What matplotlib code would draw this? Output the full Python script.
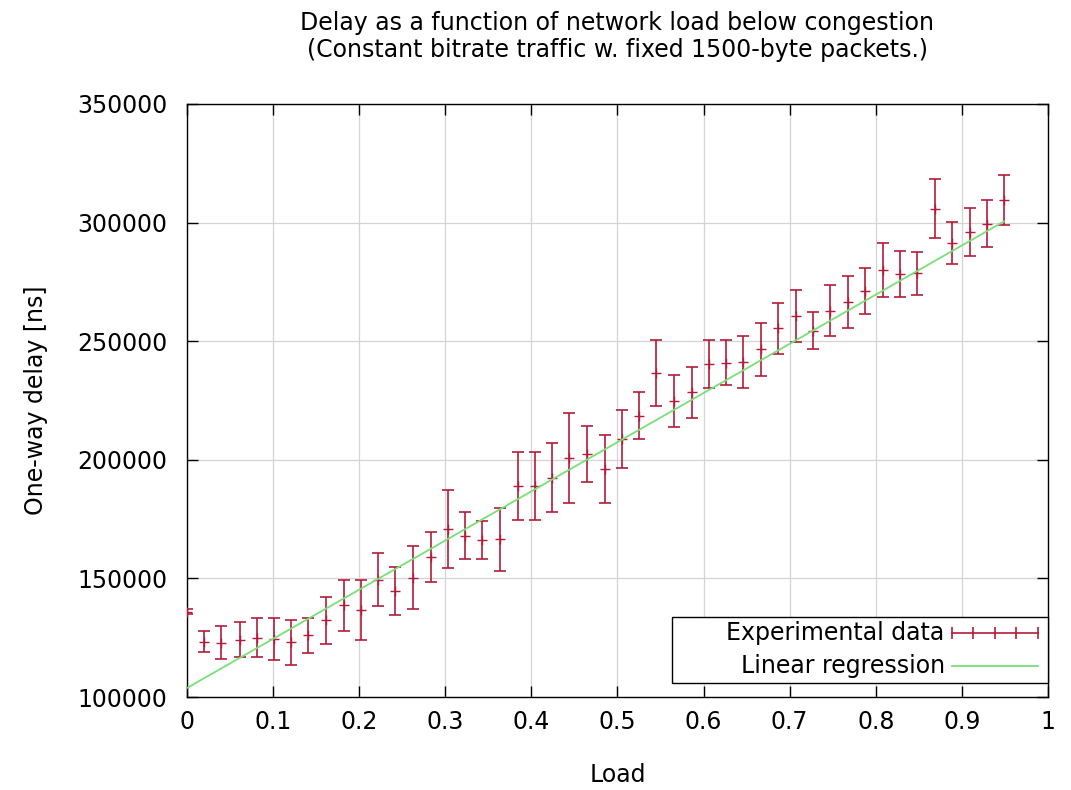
import matplotlib
matplotlib.use("Agg")
import matplotlib.pyplot as plt
from matplotlib.patches import Rectangle

# measured load per run
load = [0.000, 0.020, 0.040, 0.061, 0.081, 0.101, 0.121, 0.141, 0.162, 0.182,
        0.202, 0.222, 0.242, 0.263, 0.283, 0.303, 0.323, 0.343, 0.364, 0.384,
        0.404, 0.424, 0.444, 0.465, 0.485, 0.505, 0.525, 0.545, 0.566, 0.586,
        0.606, 0.626, 0.646, 0.667, 0.687, 0.707, 0.727, 0.747, 0.768, 0.788,
        0.808, 0.828, 0.848, 0.869, 0.889, 0.909, 0.929, 0.949]

# mean one-way delay [ns]
delay = [136000, 123300, 122900, 124100, 125000, 124500, 123000, 126100, 132300, 138600,
         136700, 149500, 144800, 150300, 159000, 170700, 168000, 166200, 166500, 189000,
         189000, 192500, 200800, 202500, 196100, 208800, 218500, 236500, 224800, 228400,
         240400, 241000, 241100, 246600, 255400, 260700, 254500, 262900, 266500, 271200,
         280100, 278500, 278600, 305800, 291500, 296000, 299500, 309500]

# error (half-width) [ns]
delay_err = [1200, 4500, 7000, 7400, 8200, 8800, 9500, 7400, 10000, 10750,
             12650, 11100, 10200, 13300, 10400, 16500, 9900, 8100, 13300, 14400,
             14400, 14400, 19100, 11700, 14400, 12400, 9900, 13800, 11000, 10900,
             10200, 9500, 11000, 11200, 10800, 10900, 7900, 10700, 11000, 9600,
             11400, 9700, 9100, 12400, 8900, 10000, 10000, 10500]

# regression line end points
reg_load = [0.0, 0.949]
reg_delay = [103800, 300500]

x_ticks = [0, 0.1, 0.2, 0.3, 0.4, 0.5, 0.6, 0.7, 0.8, 0.9, 1]
x_labels = ["0", "0.1", "0.2", "0.3", "0.4", "0.5", "0.6", "0.7", "0.8", "0.9", "1"]
y_ticks = [100000, 150000, 200000, 250000, 300000, 350000]
legend_labels = ["Experimental data", "Linear regression"]

red = "#b01c3a"
green = "#78e078"

fig = plt.figure(figsize=(10.71, 7.9), dpi=100)
ax = fig.add_axes([0.1746, 0.1177, 0.8039, 0.7507])

##### DATA + FIT
ax.errorbar(load, delay, yerr=delay_err, fmt="+", color=red, ecolor=red,
            elinewidth=1.2, capsize=4.5, capthick=1.2, markersize=7, zorder=3)
ax.plot(reg_load, reg_delay, color=green, lw=1.3, zorder=4)

##### AXES
ax.set_xlim(0, 1)
ax.set_ylim(100000, 350000)
ax.set_xticks(x_ticks)
ax.set_xticklabels(x_labels)
ax.set_yticks(y_ticks)
ax.set_yticklabels([str(v) for v in y_ticks])
ax.tick_params(direction="in", top=True, right=True, length=8, width=1,
               labelsize=17, pad=9)
ax.tick_params(axis="y", pad=14)
ax.grid(True, color="#d4d4d4", lw=0.9)
ax.set_axisbelow(True)
for s in ax.spines.values():
    s.set_linewidth(1.0)
    s.set_color("black")

ax.set_title("Delay as a function of network load below congestion\n"
             "(Constant bitrate traffic w. fixed 1500-byte packets.)",
             fontsize=17, pad=34, linespacing=1.15)
ax.set_xlabel("Load", fontsize=17, labelpad=21)
ax.set_ylabel("One-way delay [ns]", fontsize=17, labelpad=21)

##### LEGEND (gnuplot style: text right-aligned, sample on the right)
ax.add_patch(Rectangle((0.563, 0.024), 0.437, 0.111, transform=ax.transAxes,
                       facecolor="white", edgecolor="black", lw=1.0,
                       zorder=5, clip_on=False))
row_y = [0.108, 0.052]
ax.text(0.880, row_y[0], legend_labels[0], transform=ax.transAxes,
        ha="right", va="center", fontsize=17, zorder=6)
ax.text(0.880, row_y[1], legend_labels[1], transform=ax.transAxes,
        ha="right", va="center", fontsize=17, zorder=6)
ax.plot([0.888, 0.988], [row_y[0], row_y[0]], transform=ax.transAxes,
        color=red, lw=1.2, zorder=6)
ax.plot([0.888, 0.913, 0.938, 0.963, 0.988], [row_y[0]] * 5,
        transform=ax.transAxes, color=red, lw=0, marker="|",
        markersize=9, markeredgewidth=1.2, zorder=6)
ax.plot([0.888, 0.988], [row_y[1], row_y[1]], transform=ax.transAxes,
        color=green, lw=1.3, zorder=6)

fig.savefig("out.png", dpi=100)
